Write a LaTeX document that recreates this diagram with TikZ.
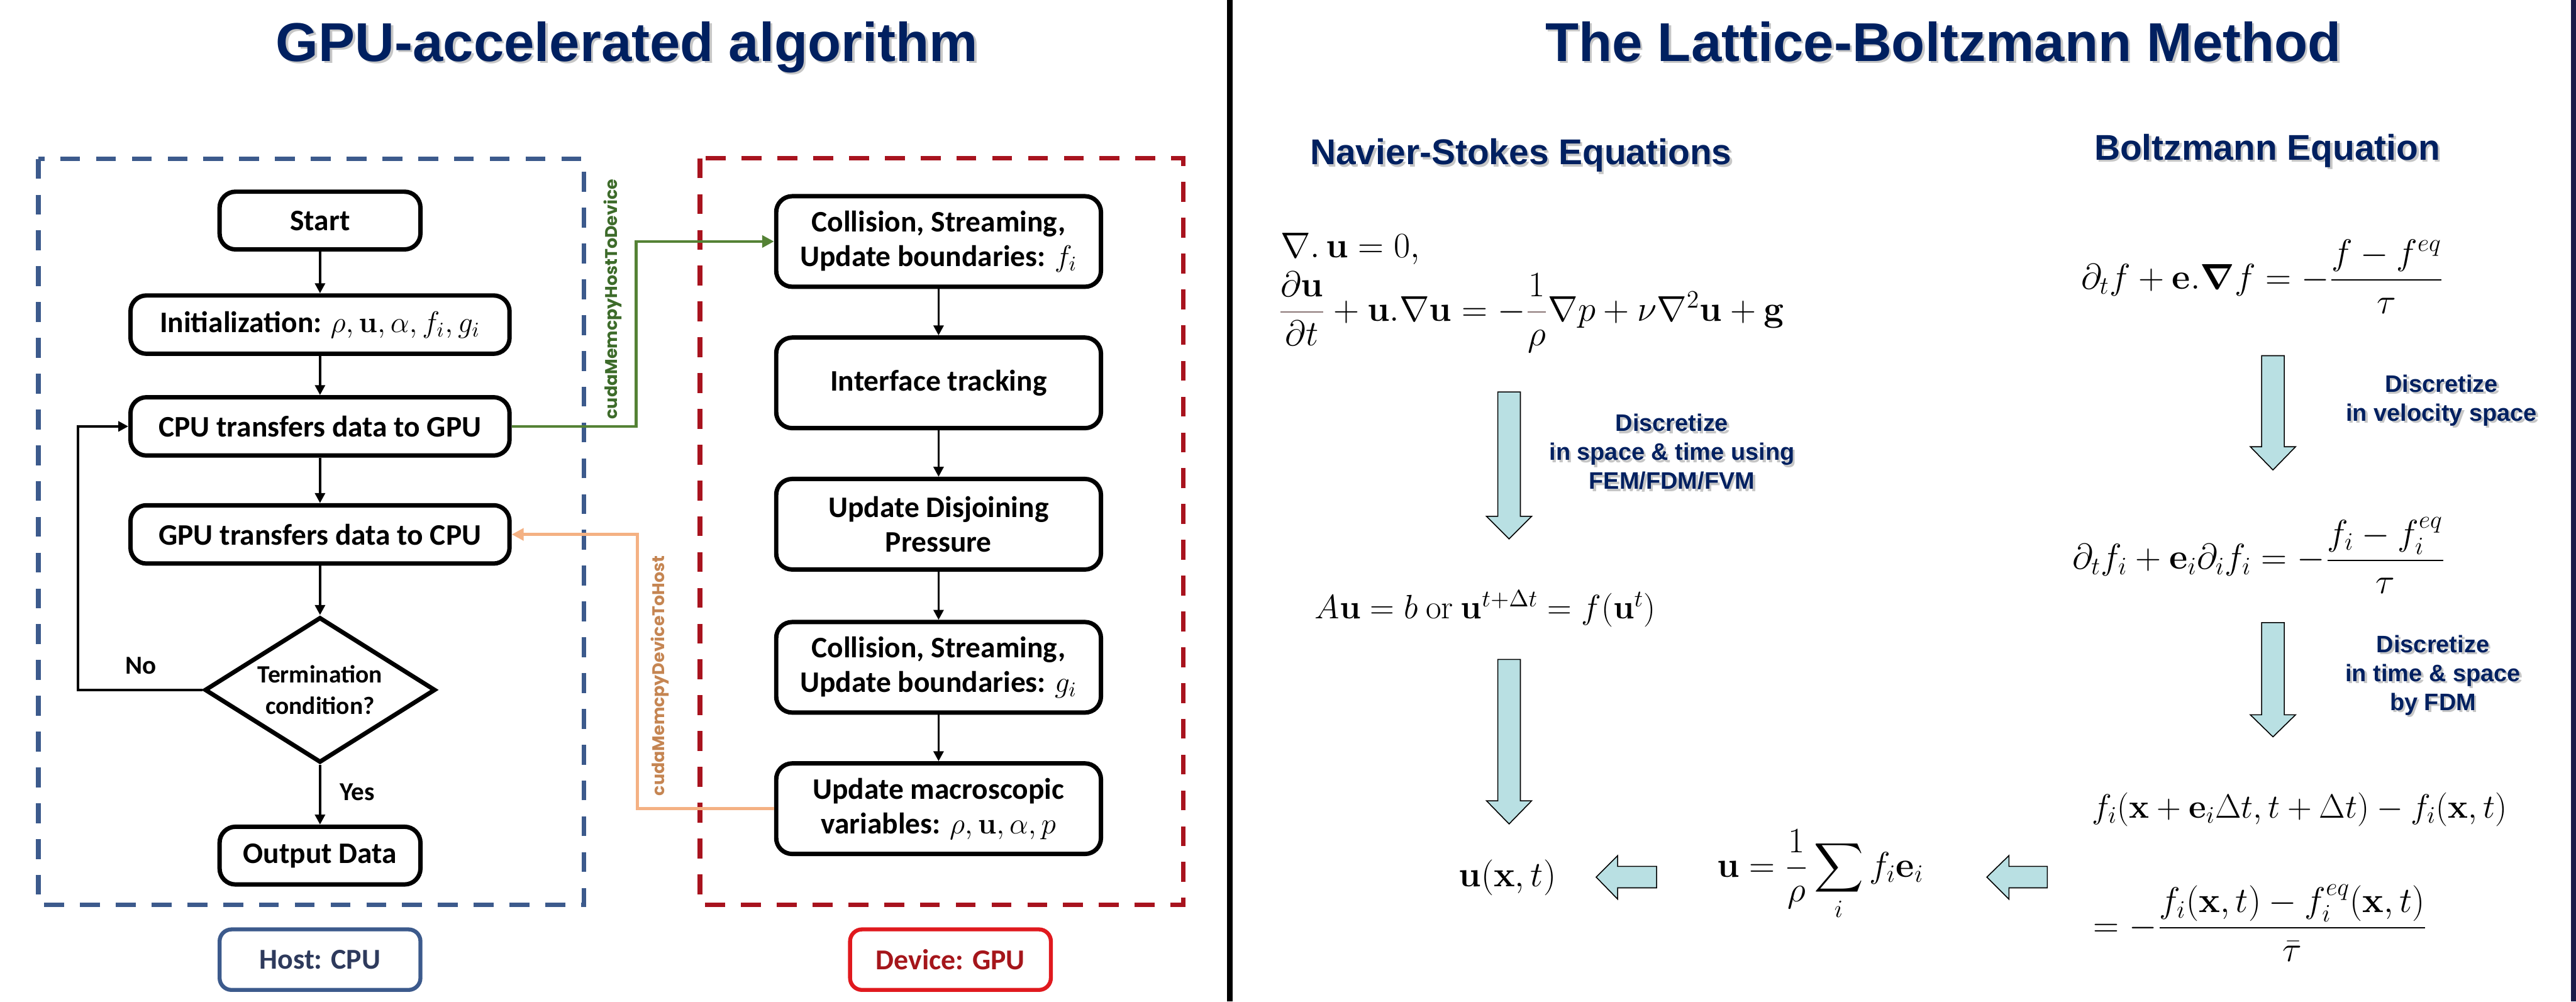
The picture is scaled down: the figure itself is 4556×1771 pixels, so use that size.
\documentclass[tikz,border=0pt]{standalone}
\usepackage{fix-cm}
\usepackage[no-math]{fontspec}
\usepackage{amsmath}
\usetikzlibrary{arrows.meta, shapes.geometric}

\setmainfont{Carlito}
\newfontfamily\headfont{Liberation Sans}
\newfontfamily\cudafont{Poppins}

% text with a soft grey drop shadow
\newcommand{\shd}[1]{\leavevmode\rlap{\kern1.1pt\raisebox{-1.1pt}{\color{gray!45}#1}}#1}
\newcommand{\gfrac}[2]{{\color{fracgray}\dfrac{\color{black}#1}{\color{black}#2}}}

\begin{document}
\begin{tikzpicture}[x=0.01cm, y=-0.01cm,
  box/.style={draw, line width=2.2pt, rounded corners=8pt, align=center,
    font=\bfseries\fontsize{15}{17.5}\selectfont, inner sep=2pt},
  smallbox/.style={box, minimum width=3.55cm, minimum height=1.02cm},
  widebox/.style={box, minimum width=6.70cm, minimum height=1.03cm},
  devbox/.style={box, minimum width=5.74cm, minimum height=1.60cm},
  decision/.style={diamond, draw, line width=2.2pt, aspect=1.57, inner sep=0pt,
    minimum width=4.08cm, minimum height=2.57cm, align=center,
    font=\bfseries\fontsize{12.5}{16}\selectfont},
  lbl/.style={draw, line width=2pt, rounded corners=6pt, minimum width=3.55cm,
    minimum height=1.07cm, font=\bfseries\fontsize{14.5}{17}\selectfont},
  flowlabel/.style={font=\bfseries\fontsize{13}{15}\selectfont},
  flow/.style={line width=1.2pt, -{Triangle[length=5pt, width=5pt]}},
  framebox/.style={line width=2.3pt, dash pattern=on 10pt off 8pt},
  cuda/.style={font=\cudafont\bfseries\fontsize{8.5}{10}\selectfont, rotate=90},
  maintitle/.style={font=\headfont\bfseries\fontsize{27.5}{33}\selectfont, text=navy, anchor=base},
  heading/.style={font=\headfont\bfseries\fontsize{18}{22}\selectfont, text=navy, anchor=base},
  note/.style={font=\headfont\bfseries\fontsize{12}{14.5}\selectfont, text=navy, align=center},
  eqn/.style={font=\fontsize{18}{22}\selectfont, inner sep=0pt},
  smalleqn/.style={font=\fontsize{17}{21}\selectfont, inner sep=0pt},
  blockarrow/.style={fill=arrowteal, draw=black, line width=0.5pt}]
  \definecolor{navy}{HTML}{002060}
  \definecolor{hostblue}{HTML}{3C5A8C}
  \definecolor{hosttext}{HTML}{2E3A5C}
  \definecolor{devred}{HTML}{A8131E}
  \definecolor{devlblred}{HTML}{E0191E}
  \definecolor{devtext}{HTML}{A5161B}
  \definecolor{h2dgreen}{HTML}{548235}
  \definecolor{h2dtext}{HTML}{3D6B2A}
  \definecolor{d2horange}{HTML}{F4B183}
  \definecolor{d2htext}{HTML}{C58552}
  \definecolor{arrowteal}{HTML}{B9E0E3}
  \definecolor{fracgray}{HTML}{8B7676}
  \definecolor{edgenavy}{HTML}{1A1A48}

  \useasboundingbox (0,0) rectangle (4556,1771);

  % titles and dividers
  \node[maintitle] (gputitle) at (1109,108) {\shd{GPU-accelerated algorithm}};
  \node[maintitle] (lbmtitle) at (3437,108) {\shd{The Lattice-Boltzmann Method}};
  \draw[line width=2.6pt] (2175,0) -- (2175,1771);
  \draw[edgenavy, line width=2.6pt] (4552,0) -- (4552,1771);

  % host side
  \draw[framebox, draw=hostblue] (68,281) rectangle (1033,1600);
  \node[smallbox] (start) at (566,390) {Start};
  \node[widebox] (init) at (566,574) {Initialization: $\rho,\mathbf{u},\alpha,f_i,g_i$};
  \node[widebox] (cpu2gpu) at (566,754) {CPU transfers data to GPU};
  \node[widebox] (gpu2cpu) at (566,945) {GPU transfers data to CPU};
  \node[decision] (term) at (566,1220) {Termination\\condition?};
  \node[smallbox] (output) at (566,1513) {Output Data};
  \node[lbl, draw=hostblue, text=hosttext] (hostlbl) at (566,1697) {Host: CPU};

  \foreach \a/\b in {start/init, init/cpu2gpu, cpu2gpu/gpu2cpu, gpu2cpu/term, term/output}
    \draw[flow] (\a) -- (\b);
  \coordinate (loopc) at (138,1220);
  \draw[flow] (term.west) -- (loopc) |- (cpu2gpu.west);
  \node[flowlabel] (no) at (249,1177) {No};
  \node[flowlabel] (yes) at (632,1401) {Yes};

  % device side
  \draw[framebox, draw=devred] (1238,280) rectangle (2093,1600);
  \node[devbox] (collf) at (1660,427) {Collision, Streaming,\\Update boundaries: $f_i$};
  \node[devbox] (iface) at (1660,677) {Interface tracking};
  \node[devbox] (disjoin) at (1660,927) {Update Disjoining\\Pressure};
  \node[devbox] (collg) at (1660,1180) {Collision, Streaming,\\Update boundaries: $g_i$};
  \node[devbox] (macro) at (1660,1430) {Update macroscopic\\variables: $\rho,\mathbf{u},\alpha,p$};
  \node[lbl, draw=devlblred, text=devtext] (devlbl) at (1681,1697) {Device: GPU};

  \foreach \a/\b in {collf/iface, iface/disjoin, disjoin/collg, collg/macro}
    \draw[flow] (\a) -- (\b);

  % memory copies
  \coordinate (h2d) at (1125,600);
  \draw[h2dgreen, line width=1.5pt, -{Triangle[length=6pt, width=6pt]}]
    (cpu2gpu.east) -- (cpu2gpu.east -| h2d) |- (collf.west);
  \node[cuda, text=h2dtext] (h2dlbl) at (1084,529) {cudaMemcpyHostToDevice};
  \coordinate (d2h) at (1127,1200);
  \draw[d2horange, line width=1.5pt, -{Triangle[length=6pt, width=6pt]}]
    (macro.west) -- (macro.west -| d2h) |- (gpu2cpu.east);
  \node[cuda, text=d2htext] (d2hlbl) at (1167,1195) {cudaMemcpyDeviceToHost};

  % lattice boltzmann side
  \node[heading] (nshead) at (2690,291) {\shd{Navier-Stokes Equations}};
  \node[heading] (bhead) at (4010,283) {\shd{Boltzmann Equation}};

  \node[eqn, anchor=base west] (ns1) at (2264,455) {$\nabla.\,\mathbf{u}=0,$};
  \node[eqn, anchor=west] (ns2) at (2260,552)
    {$\gfrac{\partial\mathbf{u}}{\partial t}+\mathbf{u}.\nabla\mathbf{u}=-\gfrac{1}{\rho}\nabla p+\nu\nabla^{2}\mathbf{u}+\mathbf{g}$};
  \node[smalleqn, anchor=base west] (disc) at (2325,1094)
    {$A\mathbf{u}=b\ \mathrm{or}\ \mathbf{u}^{t+\Delta t}=f(\mathbf{u}^{t})$};
  \node[eqn] (uxt) at (2666,1552) {$\mathbf{u}(\mathbf{x},t)$};
  \node[eqn, anchor=west] (usum) at (3036,1548)
    {$\displaystyle\mathbf{u}=\frac{1}{\rho}\sum_{i}f_i\mathbf{e}_i$};

  \node[eqn, anchor=west] (be) at (3680,489)
    {$\partial_t f+\mathbf{e}.\boldsymbol{\nabla}f=-\dfrac{f-f^{eq}}{\tau}$};
  \node[eqn, anchor=west] (dvbe) at (3665,982)
    {$\partial_t f_i+\mathbf{e}_i\partial_i f_i=-\dfrac{f_i-f_i^{eq}}{\tau}$};
  \node[smalleqn, anchor=base west] (lbe1) at (3699,1447)
    {$f_i(\mathbf{x}+\mathbf{e}_i\Delta t,t+\Delta t)-f_i(\mathbf{x},t)$};
  \node[eqn, anchor=west] (lbe2) at (3702,1632)
    {$=-\dfrac{f_i(\mathbf{x},t)-f_i^{eq}(\mathbf{x},t)}{\bar{\tau}}$};

  \node[note] (note1) at (2957,801) {\shd{Discretize}\\\shd{in space \& time using}\\\shd{FEM/FDM/FVM}};
  \node[note] (note2) at (4318,710) {\shd{Discretize}\\\shd{in velocity space}};
  \node[note] (note3) at (4303,1196) {\shd{Discretize}\\\shd{in time \& space}\\\shd{by FDM}};

  % block arrows
  \foreach \x/\t/\b/\p in {2669/693/913/953, 2669/1166/1416/1457, 4020/629/790/831, 4020/1101/1264/1303}
    \draw[blockarrow] (\x-20,\t) -- (\x+20,\t) -- (\x+20,\b) -- (\x+40,\b)
      -- (\x,\p) -- (\x-40,\b) -- (\x-20,\b) -- cycle;
  \foreach \p/\b/\e in {2823/2861/2930, 3514/3553/3621}
    \draw[blockarrow] (\p,1551) -- (\b,1513) -- (\b,1532) -- (\e,1532)
      -- (\e,1570) -- (\b,1570) -- (\b,1590) -- cycle;
\end{tikzpicture}
\end{document}
